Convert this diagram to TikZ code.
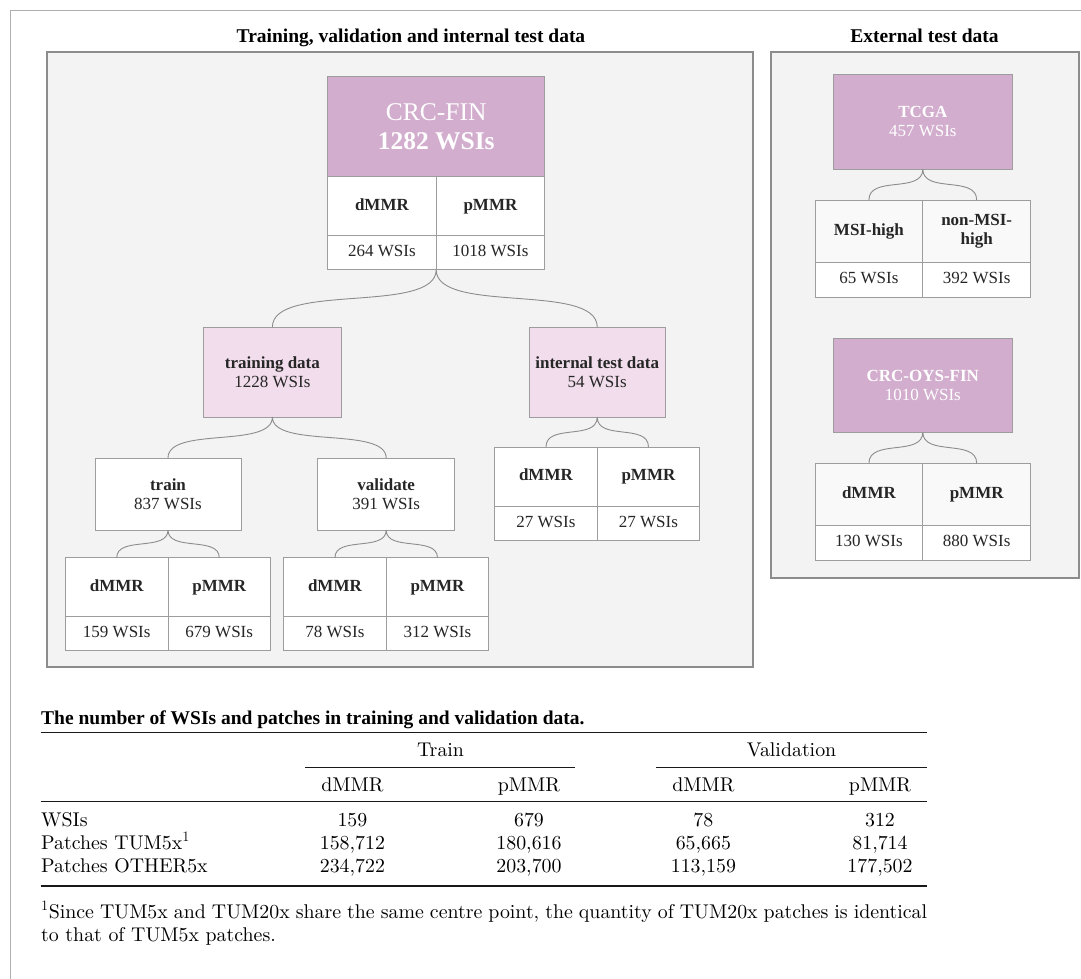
\documentclass[tikz,border=0pt]{standalone}
\usepackage{fontspec}
\newfontfamily\tnr{Liberation Serif}
\newfontfamily\lmten{lmroman10-regular.otf}
\usetikzlibrary{positioning,calc}
\definecolor{plum}{HTML}{D2ADCD}
\definecolor{blush}{HTML}{F1DDEB}
\definecolor{panelgray}{HTML}{F3F3F3}
\definecolor{edgegray}{HTML}{8C8C8C}
\definecolor{ink}{HTML}{262626}
\definecolor{cellgray}{HTML}{F9F9F9}

\begin{document}
\begin{tikzpicture}[x=1pt,y=-1pt,
	panel/.style={draw=edgegray, line width=1.4pt, fill=panelgray},
	ptitle/.style={inner sep=0pt, anchor=base, font=\tnr\bfseries\fontsize{19.5}{22}\selectfont},
	wbox/.style={draw=edgegray!85, line width=1pt, fill=white, text=ink, align=center, inner sep=2pt, outer sep=0pt, font=\tnr\fontsize{17}{19}\selectfont},
	dset/.style={wbox, fill=plum, text=white, minimum width=179pt, minimum height=94pt, anchor=north},
	subset/.style={wbox, fill=blush, minimum height=90pt, anchor=north},
	hcell/.style={wbox, minimum width=#1, minimum height=59pt, text height=11.5pt, text depth=3.5pt, font=\tnr\bfseries\fontsize{17}{19}\selectfont},
	hcell/.default=102.5pt,
	ncell/.style={wbox, minimum width=#1, minimum height=34pt, text height=11.5pt, text depth=3.5pt},
	ncell/.default=102.5pt,
	fork/.style={draw=edgegray, line width=0.9pt, to path={.. controls +(0,#1) and +(0,-#1) .. (\tikztotarget)}},
	tabtext/.style={inner sep=0pt, anchor=base, font=\lmten\fontsize{19.87}{23.2}\selectfont},
	tabrule/.style={draw=black!90, line width=#1}
]
\useasboundingbox (0,0) rectangle (1081,979);
\draw[draw=edgegray!70, line width=1pt] (10,979) -- (10,11) -- (1081,11);

% the two panels
\draw[panel] (47,52) rectangle (753,667);
\draw[panel] (771,52) rectangle (1079,578);
\node[ptitle] (lefttitle) at (411,42.7) {Training, validation and internal test data};
\node[ptitle] (righttitle) at (924.5,42.7) {External test data};

% CRC-FIN cohort
\node[dset, minimum width=217pt, minimum height=100pt, font=\tnr\fontsize{25.5}{29}\selectfont] (crc) at (436.2,76.7) {CRC-FIN\\\textbf{1282 WSIs}};
\node[hcell=108.5pt, anchor=north west] (crcd) at (crc.south west) {dMMR};
\node[hcell=108.5pt, right=0pt of crcd] (crcp) {pMMR};
\node[ncell=108.5pt, below=0pt of crcd] (crcdn) {264 WSIs};
\node[ncell=108.5pt, below=0pt of crcp] (crcpn) {1018 WSIs};

\node[subset, minimum width=138pt] (trd) at (272.4,327) {\textbf{training data}\\1228 WSIs};
\node[subset, minimum width=136pt] (itd) at (597.2,327) {\textbf{internal test data}\\54 WSIs};
\draw[fork=45] (crcdn.south east) to (trd.north) (crcdn.south east) to (itd.north);

\node[wbox, minimum width=146pt, minimum height=72pt, anchor=north] (tr) at (168,458) {\textbf{train}\\837 WSIs};
\node[wbox, minimum width=137pt, minimum height=72pt, anchor=north] (va) at (386.2,458) {\textbf{validate}\\391 WSIs};
\draw[fork=32] (trd.south) to (tr.north) (trd.south) to (va.north);

% train split
\node[hcell, anchor=north east] (trdm) at ([yshift=-27.7pt]tr.south) {dMMR};
\node[hcell, right=0pt of trdm] (trpm) {pMMR};
\node[ncell, below=0pt of trdm] (trdmn) {159 WSIs};
\node[ncell, below=0pt of trpm] (trpmn) {679 WSIs};
\draw[fork=22] (tr.south) to (trdm.north) (tr.south) to (trpm.north);

% validate split
\node[hcell, anchor=north east] (vadm) at ([yshift=-27.7pt]va.south) {dMMR};
\node[hcell, right=0pt of vadm] (vapm) {pMMR};
\node[ncell, below=0pt of vadm] (vadmn) {78 WSIs};
\node[ncell, below=0pt of vapm] (vapmn) {312 WSIs};
\draw[fork=22] (va.south) to (vadm.north) (va.south) to (vapm.north);

% internal test split
\node[hcell, anchor=north east] (itdm) at ([yshift=-30pt]itd.south) {dMMR};
\node[hcell, right=0pt of itdm] (itpm) {pMMR};
\node[ncell, below=0pt of itdm] (itdmn) {27 WSIs};
\node[ncell, below=0pt of itpm] (itpmn) {27 WSIs};
\draw[fork=24] (itd.south) to (itdm.north) (itd.south) to (itpm.north);

% external cohorts
\node[dset] (tcga) at (922.8,75) {\textbf{TCGA}\\457 WSIs};
\node[hcell=107.75pt, minimum height=62pt, fill=cellgray, anchor=north east] (tcmsi) at ([yshift=-31pt]tcga.south) {MSI-high};
\node[hcell=107.75pt, minimum height=62pt, fill=cellgray, text height=, text depth=, right=0pt of tcmsi] (tcnon) {non-MSI-\\high};
\node[ncell=107.75pt, minimum height=35pt, below=0pt of tcmsi] (tcmsin) {65 WSIs};
\node[ncell=107.75pt, minimum height=35pt, below=0pt of tcnon] (tcnonn) {392 WSIs};
\draw[fork=25] (tcga.south) to (tcmsi.north) (tcga.south) to (tcnon.north);

\node[dset] (oys) at (922.8,338) {\textbf{CRC-OYS-FIN}\\1010 WSIs};
\node[hcell=107.75pt, minimum height=62pt, fill=cellgray, anchor=north east] (oysd) at ([yshift=-31.3pt]oys.south) {dMMR};
\node[hcell=107.75pt, minimum height=62pt, fill=cellgray, right=0pt of oysd] (oysp) {pMMR};
\node[ncell=107.75pt, minimum height=35pt, below=0pt of oysd] (oysdn) {130 WSIs};
\node[ncell=107.75pt, minimum height=35pt, below=0pt of oysp] (oyspn) {880 WSIs};
\draw[fork=25] (oys.south) to (oysd.north) (oys.south) to (oysp.north);

% table of patches
\node[inner sep=0pt, anchor=base west, font=\tnr\bfseries\fontsize{19.5}{22}\selectfont] (tcap) at (41,724) {The number of WSIs and patches in training and validation data.};
\draw[tabrule=1.6pt] (40.7,732.3) -- (927,732.3);
\node[tabtext] (htrain) at (440.5,756.7) {Train};
\node[tabtext] (hval) at (791.5,756.7) {Validation};
\draw[tabrule=0.8pt] (305,767.3) -- (575,767.3);
\draw[tabrule=0.8pt] (656,767.3) -- (927,767.3);
\node[tabtext] (htd) at (352.4,791) {dMMR};
\node[tabtext] (htp) at (529,791) {pMMR};
\node[tabtext] (hvd) at (703.4,791) {dMMR};
\node[tabtext] (hvp) at (880,791) {pMMR};
\draw[tabrule=1pt] (40.7,801.7) -- (927,801.7);
\node[tabtext, anchor=base west] (rwsi) at (41,826) {WSIs};
\node[tabtext, anchor=base west] (rtum) at (41,849) {Patches TUM5x$^1$};
\node[tabtext, anchor=base west] (roth) at (41,872) {Patches OTHER5x};
\foreach \x/\a/\b/\c in {352.4/159/158{,}712/234{,}722, 529/679/180{,}616/203{,}700, 703.4/78/65{,}665/113{,}159, 880/312/81{,}714/177{,}502}
	{\node[tabtext] at (\x,826) {\a};
	\node[tabtext] at (\x,849) {\b};
	\node[tabtext] at (\x,872) {\c};}
\draw[tabrule=1.6pt] (40.7,886) -- (927,886);
\node[tabtext, anchor=base west] (fnote) at (41,918) {\makebox[886pt][s]{$^1$Since TUM5x and TUM20x share the same centre point, the quantity of TUM20x patches is identical}};
\node[tabtext, anchor=base west] (fnotetail) at (41,941) {to that of TUM5x patches.};

\end{tikzpicture}
\end{document}
